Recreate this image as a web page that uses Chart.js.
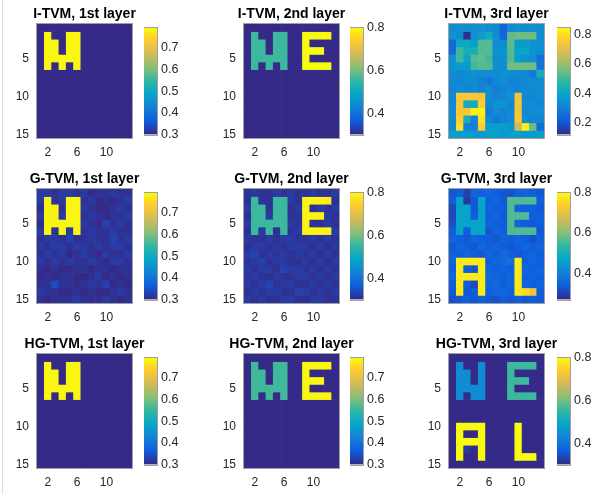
<!DOCTYPE html>
<html>
<head>
<meta charset="utf-8">
<script src="https://cdn.jsdelivr.net/npm/chart.js@4.4.1/dist/chart.umd.min.js"></script>
<style>
  html, body { margin: 0; padding: 0; background: #fff; }
  #wrap { position: relative; width: 592px; height: 494px; overflow: hidden; background: #fff; }
  #wrap canvas { position: absolute; }
  #edge { position: absolute; left: 2px; top: 0; width: 1px; height: 494px; background: #dcdcdc; }
</style>
</head>
<body>
<div id="wrap"><div id="edge"></div></div>
<script>
// grid of each panel: 15 rows x 13 columns
const cols = [1, 2, 3, 4, 5, 6, 7, 8, 9, 10, 11, 12, 13];
const rows = [1, 2, 3, 4, 5, 6, 7, 8, 9, 10, 11, 12, 13, 14, 15];
const xTicks = [2, 6, 10];
const yTicks = [5, 10, 15];

const titles = [
  'I-TVM, 1st layer', 'I-TVM, 2nd layer', 'I-TVM, 3rd layer',
  'G-TVM, 1st layer', 'G-TVM, 2nd layer', 'G-TVM, 3rd layer',
  'HG-TVM, 1st layer', 'HG-TVM, 2nd layer', 'HG-TVM, 3rd layer'
];

// colour limits and colorbar ticks
const cbMin = [0.3, 0.3, 0.12, 0.3, 0.3, 0.27, 0.3, 0.3, 0.3];
const cbMax = [0.795, 0.8, 0.845, 0.795, 0.8, 0.8, 0.795, 0.795, 0.8];
const cbTicks = [
  [0.3, 0.4, 0.5, 0.6, 0.7], [0.4, 0.6, 0.8], [0.2, 0.4, 0.6, 0.8],
  [0.3, 0.4, 0.5, 0.6, 0.7], [0.4, 0.6, 0.8], [0.4, 0.6, 0.8],
  [0.3, 0.4, 0.5, 0.6, 0.7], [0.3, 0.4, 0.5, 0.6, 0.7], [0.4, 0.6, 0.8]
];

const itvm1 = [
  [.3, .3, .3, .3, .3, .3, .3, .3, .3, .3, .3, .3, .3],
  [.3, .79, .3, .3, .79, .79, .3, .3, .3, .3, .3, .3, .3],
  [.3, .79, .79, .3, .79, .79, .3, .3, .3, .3, .3, .3, .3],
  [.3, .79, .79, .3, .79, .79, .3, .3, .3, .3, .3, .3, .3],
  [.3, .79, .79, .79, .79, .79, .3, .3, .3, .3, .3, .3, .3],
  [.3, .79, .3, .79, .3, .79, .3, .3, .3, .3, .3, .3, .3],
  [.3, .3, .3, .3, .3, .3, .3, .3, .3, .3, .3, .3, .3],
  [.3, .3, .3, .3, .3, .3, .3, .3, .3, .3, .3, .3, .3],
  [.3, .3, .3, .3, .3, .3, .3, .3, .3, .3, .3, .3, .3],
  [.3, .3, .3, .3, .3, .3, .3, .3, .3, .3, .3, .3, .3],
  [.3, .3, .3, .3, .3, .3, .3, .3, .3, .3, .3, .3, .3],
  [.3, .3, .3, .3, .3, .3, .3, .3, .3, .3, .3, .3, .3],
  [.3, .3, .3, .3, .3, .3, .3, .3, .3, .3, .3, .3, .3],
  [.3, .3, .3, .3, .3, .3, .3, .3, .3, .3, .3, .3, .3],
  [.3, .3, .3, .3, .3, .3, .3, .3, .3, .3, .3, .3, .3]
];

const itvm2 = [
  [.3, .3, .3, .3, .3, .3, .3, .3, .3, .3, .3, .3, .3],
  [.3, .56, .3, .3, .56, .56, .3, .3, .8, .8, .8, .8, .3],
  [.3, .56, .56, .3, .56, .56, .3, .3, .8, .3, .3, .3, .3],
  [.3, .56, .56, .3, .56, .56, .3, .3, .8, .8, .8, .3, .3],
  [.3, .56, .56, .56, .56, .56, .3, .3, .8, .3, .3, .3, .3],
  [.3, .56, .3, .56, .3, .56, .3, .3, .8, .8, .8, .8, .3],
  [.3, .3, .3, .3, .3, .3, .3, .3, .3, .3, .3, .3, .3],
  [.3, .3, .3, .3, .3, .3, .3, .3, .3, .3, .3, .3, .3],
  [.3, .3, .3, .3, .3, .3, .3, .3, .3, .3, .3, .3, .3],
  [.3, .3, .3, .3, .3, .3, .3, .3, .3, .3, .3, .3, .3],
  [.3, .3, .3, .3, .3, .3, .3, .3, .3, .3, .3, .3, .3],
  [.3, .3, .3, .3, .3, .3, .3, .3, .3, .3, .3, .3, .3],
  [.3, .3, .3, .3, .3, .3, .3, .3, .3, .3, .3, .3, .3],
  [.3, .3, .3, .3, .3, .3, .3, .3, .3, .3, .3, .3, .3],
  [.3, .3, .3, .3, .3, .3, .3, .3, .3, .3, .3, .3, .3]
];

const itvm3 = [
  [.33, .34, .33, .34, .35, .33, .32, .23, .33, .34, .33, .34, .33],
  [.35, .33, .13, .34, .37, .42, .33, .23, .53, .55, .55, .55, .33],
  [.25, .40, .41, .38, .52, .52, .33, .33, .53, .37, .37, .35, .34],
  [.25, .50, .43, .44, .52, .52, .34, .35, .52, .39, .40, .35, .33],
  [.34, .50, .40, .52, .53, .50, .33, .34, .52, .37, .35, .33, .26],
  [.35, .37, .37, .50, .52, .52, .34, .33, .55, .55, .55, .55, .27],
  [.33, .32, .33, .34, .33, .33, .33, .34, .33, .32, .33, .28, .43],
  [.32, .31, .33, .33, .30, .28, .32, .33, .31, .31, .32, .33, .33],
  [.31, .33, .31, .33, .31, .33, .29, .31, .32, .31, .32, .32, .33],
  [.32, .75, .75, .75, .74, .33, .30, .32, .34, .72, .32, .31, .33],
  [.32, .74, .43, .42, .76, .31, .35, .35, .31, .74, .33, .32, .32],
  [.33, .74, .74, .83, .83, .28, .33, .31, .32, .74, .32, .33, .33],
  [.33, .76, .44, .30, .80, .33, .28, .31, .32, .75, .33, .31, .32],
  [.32, .80, .30, .30, .76, .38, .38, .38, .36, .66, .82, .55, .25],
  [.38, .38, .38, .36, .36, .38, .38, .36, .38, .38, .36, .36, .38]
];

const gtvm1 = [
  [.32, .32, .31, .32, .32, .31, .32, .30, .31, .31, .32, .31, .31],
  [.32, .79, .31, .32, .79, .79, .31, .32, .30, .31, .30, .31, .32],
  [.31, .79, .79, .31, .79, .79, .32, .31, .30, .30, .31, .32, .31],
  [.32, .79, .78, .32, .79, .79, .31, .32, .31, .30, .31, .31, .32],
  [.31, .79, .79, .79, .79, .79, .32, .31, .30, .33, .31, .32, .31],
  [.32, .79, .31, .79, .32, .79, .31, .32, .31, .31, .32, .31, .31],
  [.31, .32, .32, .31, .33, .31, .31, .32, .31, .31, .33, .31, .32],
  [.32, .31, .32, .32, .31, .32, .32, .31, .32, .31, .32, .32, .31],
  [.31, .32, .31, .32, .30, .31, .32, .31, .30, .32, .31, .31, .32],
  [.32, .31, .32, .31, .32, .31, .31, .32, .31, .30, .32, .32, .31],
  [.31, .30, .31, .30, .30, .31, .31, .30, .31, .31, .30, .31, .31],
  [.30, .31, .30, .31, .31, .30, .30, .31, .32, .30, .31, .30, .31],
  [.31, .31, .34, .31, .31, .30, .31, .32, .31, .33, .30, .31, .30],
  [.32, .31, .31, .30, .30, .31, .30, .31, .30, .30, .31, .32, .31],
  [.31, .30, .31, .31, .31, .32, .31, .31, .31, .32, .31, .30, .31]
];

const gtvm2 = [
  [.31, .32, .31, .31, .32, .31, .32, .31, .31, .32, .31, .31, .32],
  [.31, .56, .31, .31, .56, .56, .32, .31, .79, .79, .79, .78, .31],
  [.32, .56, .56, .31, .56, .56, .31, .32, .79, .31, .32, .31, .32],
  [.31, .56, .56, .32, .56, .56, .31, .31, .79, .79, .79, .32, .31],
  [.32, .56, .56, .56, .56, .56, .32, .31, .79, .31, .31, .32, .31],
  [.31, .56, .32, .56, .31, .56, .31, .32, .79, .79, .79, .79, .32],
  [.32, .31, .31, .32, .31, .32, .32, .31, .31, .32, .31, .32, .31],
  [.31, .32, .32, .31, .32, .31, .32, .32, .32, .31, .32, .31, .32],
  [.32, .33, .31, .32, .31, .32, .31, .32, .31, .32, .31, .32, .31],
  [.31, .32, .33, .31, .32, .32, .31, .31, .32, .31, .32, .31, .32],
  [.32, .31, .32, .32, .31, .33, .32, .32, .31, .32, .31, .32, .31],
  [.31, .32, .31, .31, .32, .31, .31, .32, .32, .31, .32, .31, .32],
  [.32, .31, .32, .33, .31, .32, .32, .31, .31, .32, .31, .32, .31],
  [.31, .32, .31, .32, .32, .31, .31, .33, .32, .31, .32, .31, .32],
  [.32, .31, .32, .31, .31, .32, .32, .31, .31, .32, .32, .31, .31]
];

const gtvm3 = [
  [.33, .34, .30, .35, .34, .35, .34, .33, .32, .34, .35, .34, .33],
  [.34, .47, .29, .33, .47, .34, .35, .33, .56, .56, .56, .56, .34],
  [.31, .47, .47, .33, .47, .35, .34, .34, .56, .35, .34, .34, .33],
  [.31, .47, .47, .34, .47, .34, .35, .33, .56, .56, .56, .34, .34],
  [.32, .47, .47, .47, .47, .35, .34, .34, .56, .35, .34, .33, .34],
  [.34, .47, .34, .47, .47, .33, .35, .34, .56, .56, .56, .56, .33],
  [.35, .34, .33, .35, .34, .34, .33, .35, .34, .35, .34, .32, .34],
  [.33, .35, .34, .33, .35, .34, .35, .34, .33, .34, .35, .34, .35],
  [.34, .34, .35, .34, .33, .35, .34, .36, .34, .33, .34, .35, .34],
  [.35, .78, .78, .78, .78, .34, .35, .36, .37, .78, .34, .35, .34],
  [.34, .78, .34, .33, .78, .35, .34, .35, .34, .78, .35, .34, .35],
  [.35, .78, .78, .78, .78, .36, .35, .34, .35, .78, .34, .35, .34],
  [.34, .78, .34, .31, .78, .35, .36, .34, .35, .78, .35, .34, .35],
  [.33, .78, .33, .34, .78, .34, .35, .35, .34, .78, .76, .72, .34],
  [.32, .33, .34, .33, .34, .33, .32, .34, .33, .34, .33, .34, .33]
];

const hgtvm1 = [
  [.3, .3, .3, .3, .3, .3, .3, .3, .3, .3, .3, .3, .3],
  [.3, .79, .3, .3, .79, .79, .3, .3, .3, .3, .3, .3, .3],
  [.3, .79, .79, .3, .79, .79, .3, .3, .3, .3, .3, .3, .3],
  [.3, .79, .79, .3, .79, .79, .3, .3, .3, .3, .3, .3, .3],
  [.3, .79, .79, .79, .79, .79, .3, .3, .3, .3, .3, .3, .3],
  [.3, .79, .3, .79, .3, .79, .3, .3, .3, .3, .3, .3, .3],
  [.3, .3, .3, .3, .3, .3, .3, .3, .3, .3, .3, .3, .3],
  [.3, .3, .3, .3, .3, .3, .3, .3, .3, .3, .3, .3, .3],
  [.3, .3, .3, .3, .3, .3, .3, .3, .3, .3, .3, .3, .3],
  [.3, .3, .3, .3, .3, .3, .3, .3, .3, .3, .3, .3, .3],
  [.3, .3, .3, .3, .3, .3, .3, .3, .3, .3, .3, .3, .3],
  [.3, .3, .3, .3, .3, .3, .3, .3, .3, .3, .3, .3, .3],
  [.3, .3, .3, .3, .3, .3, .3, .3, .3, .3, .3, .3, .3],
  [.3, .3, .3, .3, .3, .3, .3, .3, .3, .3, .3, .3, .3],
  [.3, .3, .3, .3, .3, .3, .3, .3, .3, .3, .3, .3, .3]
];

const hgtvm2 = [
  [.3, .3, .3, .3, .3, .3, .3, .3, .3, .3, .3, .3, .3],
  [.3, .56, .3, .3, .56, .56, .3, .3, .79, .79, .79, .79, .3],
  [.3, .56, .56, .3, .56, .56, .3, .3, .79, .3, .3, .3, .3],
  [.3, .56, .56, .3, .56, .56, .3, .3, .79, .79, .79, .3, .3],
  [.3, .56, .56, .56, .56, .56, .3, .3, .79, .3, .3, .3, .3],
  [.3, .56, .3, .56, .3, .56, .3, .3, .79, .79, .79, .79, .3],
  [.3, .3, .3, .3, .3, .3, .3, .3, .3, .3, .3, .3, .3],
  [.3, .3, .3, .3, .3, .3, .3, .3, .3, .3, .3, .3, .3],
  [.3, .3, .3, .3, .3, .3, .3, .3, .3, .3, .3, .3, .3],
  [.3, .3, .3, .3, .3, .3, .3, .3, .3, .3, .3, .3, .3],
  [.3, .3, .3, .3, .3, .3, .3, .3, .3, .3, .3, .3, .3],
  [.3, .3, .3, .3, .3, .3, .3, .3, .3, .3, .3, .3, .3],
  [.3, .3, .3, .3, .3, .3, .3, .3, .3, .3, .3, .3, .3],
  [.3, .3, .3, .3, .3, .3, .3, .3, .3, .3, .3, .3, .3],
  [.3, .3, .3, .3, .3, .3, .3, .3, .3, .3, .3, .3, .3]
];

const hgtvm3 = [
  [.3, .3, .3, .3, .3, .3, .3, .3, .3, .3, .3, .3, .3],
  [.3, .445, .3, .3, .445, .3, .3, .3, .56, .56, .56, .56, .3],
  [.3, .445, .445, .3, .445, .3, .3, .3, .56, .3, .3, .3, .3],
  [.3, .445, .445, .3, .445, .3, .3, .3, .56, .56, .56, .3, .3],
  [.3, .445, .445, .445, .445, .3, .3, .3, .56, .3, .3, .3, .3],
  [.3, .445, .3, .445, .445, .3, .3, .3, .56, .56, .56, .56, .3],
  [.3, .3, .3, .3, .3, .3, .3, .3, .3, .3, .3, .3, .3],
  [.3, .3, .3, .3, .3, .3, .3, .3, .3, .3, .3, .3, .3],
  [.3, .3, .3, .3, .3, .3, .3, .3, .3, .3, .3, .3, .3],
  [.3, .8, .8, .8, .8, .3, .3, .3, .3, .8, .3, .3, .3],
  [.3, .8, .3, .3, .8, .3, .3, .3, .3, .8, .3, .3, .3],
  [.3, .8, .8, .8, .8, .3, .3, .3, .3, .8, .3, .3, .3],
  [.3, .8, .32, .3, .8, .3, .3, .3, .3, .8, .3, .3, .3],
  [.3, .8, .3, .3, .8, .3, .3, .3, .3, .8, .8, .8, .3],
  [.3, .3, .3, .3, .3, .3, .3, .3, .3, .3, .3, .3, .3]
];

const panels = [itvm1, itvm2, itvm3, gtvm1, gtvm2, gtvm3, hgtvm1, hgtvm2, hgtvm3];

// parula-like colour map
const parula = [
  [53, 42, 135], [15, 92, 221], [20, 129, 214], [6, 164, 202], [46, 183, 164],
  [135, 191, 119], [209, 187, 89], [254, 200, 50], [249, 251, 14]
];

function mapColor(t) {
  t = Math.min(1, Math.max(0, t));
  const p = t * (parula.length - 1);
  const i = Math.min(parula.length - 2, Math.floor(p));
  const f = p - i;
  const a = parula[i], b = parula[i + 1];
  const c = a.map((v, k) => Math.round(v + (b[k] - v) * f));
  return 'rgb(' + c.join(',') + ')';
}

const font = "'Liberation Sans', Helvetica, Arial, sans-serif";
const textColor = '#262626';

// outline of each axes box
const boxLine = {
  id: 'boxLine',
  afterDatasetsDraw(chart) {
    const a = chart.chartArea;
    const ctx = chart.ctx;
    ctx.save();
    ctx.strokeStyle = '#a0a0a0';
    ctx.lineWidth = 1;
    ctx.strokeRect(Math.round(a.left) - 0.5, Math.round(a.top) - 0.5, Math.round(a.width) + 1, Math.round(a.height) + 1);
    ctx.restore();
  }
};

const heatLeft = [37, 244, 449];
const heatTop = [24, 189, 354];
const heatW = 95, heatH = 114;
const barLeft = [144, 350, 557];
const barW = 13;

const wrap = document.getElementById('wrap');

function addCanvas(left, top, w, h) {
  const c = document.createElement('canvas');
  c.width = w; c.height = h;
  c.style.left = left + 'px'; c.style.top = top + 'px';
  c.style.width = w + 'px'; c.style.height = h + 'px';
  wrap.appendChild(c);
  return c;
}

panels.forEach((m, p) => {
  const gx = p % 3, gy = Math.floor(p / 3);
  const lo = cbMin[p], hi = cbMax[p];

  // heat map: one floating bar per cell
  const hc = addCanvas(heatLeft[gx] - 40, heatTop[gy] - 26, heatW + 80, heatH + 52);
  new Chart(hc, {
    type: 'bar',
    data: {
      labels: cols.map(String),
      datasets: rows.map((r, ri) => ({
        data: cols.map(() => [r - 0.5, r + 0.5]),
        backgroundColor: m[ri].map(v => mapColor((v - lo) / (hi - lo))),
        borderWidth: 0,
        grouped: false,
        barPercentage: 1,
        categoryPercentage: 1
      }))
    },
    options: {
      responsive: false,
      animation: false,
      events: [],
      layout: { padding: 0 },
      plugins: {
        legend: { display: false },
        tooltip: { enabled: false },
        title: {
          display: true,
          text: titles[p],
          color: '#000',
          font: { family: font, size: 14, weight: 'bold', lineHeight: 1 },
          padding: { top: 9, bottom: 3 }
        }
      },
      scales: {
        x: {
          grid: { display: false, drawTicks: false },
          border: { display: false },
          ticks: {
            autoSkip: false, maxRotation: 0, padding: 7,
            color: textColor, font: { family: font, size: 12 },
            callback: (v, i) => xTicks.includes(cols[i]) ? String(cols[i]) : ''
          },
          afterFit: s => { s.height = 26; }
        },
        y: {
          type: 'linear', reverse: true, min: 0.5, max: 15.5,
          grid: { display: false, drawTicks: false },
          border: { display: false },
          ticks: { padding: 8, color: textColor, font: { family: font, size: 12 } },
          afterBuildTicks: s => { s.ticks = yTicks.map(v => ({ value: v })); },
          afterFit: s => { s.width = 40; }
        },
        y2: {
          type: 'linear', position: 'right', min: 0.5, max: 15.5,
          grid: { display: false, drawTicks: false },
          border: { display: false },
          ticks: { display: false },
          afterFit: s => { s.width = 40; }
        }
      }
    },
    plugins: [boxLine]
  });

  // colour bar
  const bc = addCanvas(barLeft[gx], heatTop[gy] - 8, barW + 36, heatH + 16);
  new Chart(bc, {
    type: 'bar',
    data: {
      labels: [''],
      datasets: [{
        data: [[lo, hi]],
        backgroundColor: ctx => {
          const a = ctx.chart.chartArea;
          if (!a) return parula[0];
          const g = ctx.chart.ctx.createLinearGradient(0, a.bottom, 0, a.top);
          parula.forEach((c, i) => g.addColorStop(i / (parula.length - 1), 'rgb(' + c.join(',') + ')'));
          return g;
        },
        borderWidth: 0,
        barPercentage: 1,
        categoryPercentage: 1
      }]
    },
    options: {
      responsive: false,
      animation: false,
      events: [],
      layout: { padding: { top: 8, bottom: 8, left: 0, right: 0 } },
      plugins: { legend: { display: false }, tooltip: { enabled: false } },
      scales: {
        x: { display: false },
        y: {
          position: 'right', min: lo, max: hi,
          grid: { display: false, drawTicks: false },
          border: { display: false },
          ticks: {
            padding: 4, color: textColor, font: { family: font, size: 12.5 },
            callback: v => v.toFixed(1)
          },
          afterBuildTicks: s => { s.ticks = cbTicks[p].map(v => ({ value: v })); },
          afterFit: s => { s.width = 36; }
        }
      }
    },
    plugins: [boxLine]
  });
});
</script>
</body>
</html>
